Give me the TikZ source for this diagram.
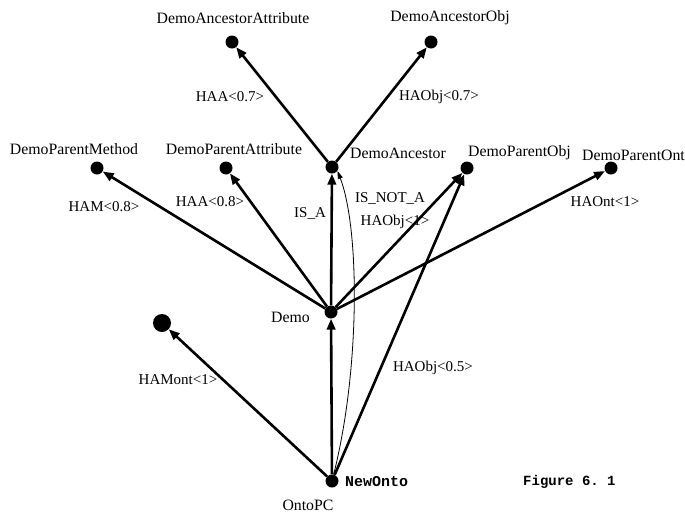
\documentclass[tikz,border=0pt]{standalone}
\usepackage{fontspec}
\setmainfont{Liberation Serif}
\setmonofont{Liberation Mono}
\usetikzlibrary{arrows.meta}
\begin{document}
\begin{tikzpicture}[x=1pt,y=-1pt,
  dot/.style={circle,fill=black,inner sep=0pt,minimum size=13pt},
  bigdot/.style={dot,minimum size=18pt},
  cname/.style={font=\fontsize{15.8}{18}\selectfont,inner sep=0pt},
  lbl/.style={font=\fontsize{15}{18}\selectfont,inner sep=0pt},
  mono/.style={font=\fontsize{15}{18}\selectfont\ttfamily\bfseries,inner sep=0pt},
  link/.style={line width=2.6pt,-{Triangle[length=11pt,width=8.5pt]}},
  faint/.style={line width=0.8pt,-{Triangle[length=8pt,width=5pt]}}]
\fill[white] (0,0) rectangle (685,515);
\useasboundingbox (0,0) rectangle (685,515);

% concepts
\node[dot] (anc) at (332,167) {};
\node[dot] (ancattr) at (232,42) {};
\node[dot] (ancobj) at (431,42) {};
\node[dot] (pmeth) at (97,168) {};
\node[dot] (pattr) at (226,168) {};
\node[dot] (pobj) at (467,168) {};
\node[dot] (pont) at (611,168) {};
\node[dot] (demo) at (331,312) {};
\node[bigdot] (hamont) at (162,323) {};
\node[dot] (newonto) at (332,481) {};

% concept names
\node[cname] (t-ancattr) at (233,18) {DemoAncestorAttribute};
\node[cname] (t-ancobj) at (450,18) {DemoAncestorObj};
\node[cname] (t-pmeth) at (74,149) {DemoParentMethod};
\node[cname] (t-pattr) at (234,149) {DemoParentAttribute};
\node[cname,anchor=west] (t-anc) at (350,153) {DemoAncestor};
\node[cname,anchor=west] (t-pobj) at (468,153) {DemoParentObj};
\node[cname,anchor=west] (t-pont) at (582,155) {DemoParentOnt};
\node[cname,anchor=east] (t-demo) at (310,317) {Demo};
\node[mono,anchor=west] (t-newonto) at (345,482) {NewOnto};
\node[cname] (t-ontopc) at (308,505) {OntoPC};
\node[mono,anchor=west,font=\fontsize{14}{16}\selectfont\ttfamily\bfseries] (caption) at (523,482) {Figure 6. 1};

% relations
\draw[link] (anc) -- (ancattr);
\draw[link] (anc) -- (ancobj);
\draw[link] (demo) -- (pmeth);
\draw[link] (demo) -- (pattr);
\draw[link] (demo) -- (anc);
\draw[link] (demo) -- (pobj);
\draw[link] (demo) -- (pont);
\draw[link] (newonto) -- (demo);
\draw[link] (newonto) -- (pobj);
\draw[link] (newonto) -- (hamont);
\draw[faint] (newonto) .. controls (360,370) and (360,230) .. (anc.-35);

% relation labels
\node[lbl] (l-haa7) at (230,97) {HAA<0.7>};
\node[lbl] (l-haobj7) at (439,97) {HAObj<0.7>};
\node[lbl] (l-ham8) at (104,207) {HAM<0.8>};
\node[lbl] (l-haa8) at (210,202) {HAA<0.8>};
\node[lbl] (l-isa) at (310,213) {IS\_A};
\node[lbl] (l-isnota) at (390,198) {IS\_NOT\_A};
\node[lbl] (l-haobj1) at (395,222) {HAObj<1>};
\node[lbl] (l-haont1) at (605,202) {HAOnt<1>};
\node[lbl] (l-hamont1) at (178,380) {HAMont<1>};
\node[lbl] (l-haobj5) at (433,368) {HAObj<0.5>};
\end{tikzpicture}
\end{document}
